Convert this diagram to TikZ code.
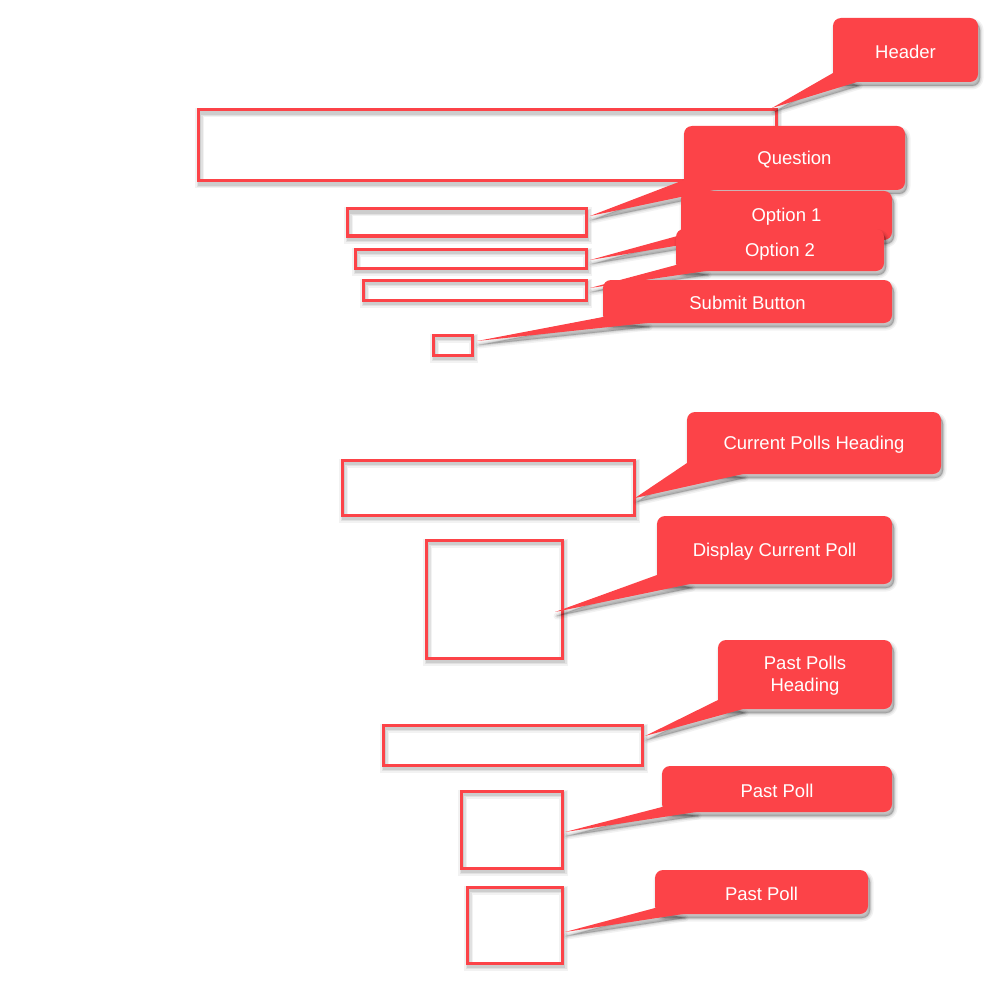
\documentclass[tikz,border=0pt]{standalone}
\usepackage{fontspec}
\setmainfont{Liberation Sans}
\usetikzlibrary{calc}
\definecolor{cred}{RGB}{252,67,72}
\tikzset{
  wbox/.style={draw=cred, line width=3pt, inner sep=0pt, outer sep=0pt, rectangle},
  cshape/.style={rectangle, inner sep=0pt, outer sep=0pt},
  ctext/.style={text=white, font=\fontsize{18.5}{22}\selectfont, align=center, inner sep=0pt},
}
\newcommand\wireframebox[4]{% name, center, width, height
  \node[wbox, minimum width=#3, minimum height=#4] (#1) at (#2) {};
}
\newcommand\calloutshadowpath[3]{% name, tip, up, right via \cu \cr
  ($(#1.south west)+(2,4)$) rectangle ($(#1.north east)+(2,4)$)
}
\newcommand\mycallout[8]{% name, center, width, height, tip coordinate name, up, right, text
  \node[cshape, minimum width=#3, minimum height=#4] (#1) at (#2) {};
  \foreach \lw/\op in {7/.05, 4/.07, 1.5/.1}{
    \filldraw[black, opacity=\op, line width=\lw pt, rounded corners=8pt, line join=round]
      ($(#1.south west)+(2,4)$) rectangle ($(#1.north east)+(2,4)$);
    \filldraw[black, opacity=\op, line width=\lw pt, line join=round]
      ($(#1.south west)+(2,4-#6)$) -- ($(#5)+(2,4)$) -- ($(#1.south west)+(2+#7,4)$) -- cycle;
  }
  \fill[cred] ($(#1.south west)+(0,-#6)$) -- (#5) -- ($(#1.south west)+(#7,0)$) -- cycle;
  \fill[cred, rounded corners=8pt] (#1.south west) rectangle (#1.north east);
  \node[ctext] (#1t) at ($(#1)+(0,1.5)$) {#8};
}
\begin{document}
\begin{tikzpicture}[x=1pt, y=-1pt]
\useasboundingbox (0,0) rectangle (1000,1000);
% box shadows
\foreach \c/\w/\h in {{487,145.5}/578/71, {466.5,222.5}/239/27, {470.5,258.5}/231/19, {474.5,290}/223/20, {452.5,345}/39/20, {488,487.5}/292/55, {494,599}/136/118, {512.5,745}/259/40, {511.5,829.5}/101/77, {514.5,925}/95/76}{
  \foreach \lw/\op in {9/.05, 6/.07, 3.5/.09}{
    \draw[black, opacity=\op, line width=\lw pt] ($(\c)+(-\w/2+1.5,-\h/2+3)$) rectangle ($(\c)+(\w/2+1.5,\h/2+3)$);
  }
}
% wireframe boxes
\wireframebox{hbox}{487,145.5}{578}{71}
\wireframebox{qbox}{466.5,222.5}{239}{27}
\wireframebox{oabox}{470.5,258.5}{231}{19}
\wireframebox{obbox}{474.5,290}{223}{20}
\wireframebox{sbox}{452.5,345}{39}{20}
\wireframebox{cphbox}{488,487.5}{292}{55}
\wireframebox{dcpbox}{494,599}{136}{118}
\wireframebox{pphbox}{512.5,745}{259}{40}
\wireframebox{ppabox}{511.5,829.5}{101}{77}
\wireframebox{ppbbox}{514.5,925}{95}{76}
% pointer tips
\coordinate (hdrtip) at ($(hbox.north east)+(-4,-2)$);
\coordinate (quetip) at ($(qbox.east)+(4,-6.5)$);
\coordinate (opatip) at ($(oabox.east)+(4,1.5)$);
\coordinate (opbtip) at ($(obbox.east)+(4,-2)$);
\coordinate (subtip) at ($(sbox.east)+(5,-4)$);
\coordinate (cphtip) at ($(cphbox.east)+(1,10.5)$);
\coordinate (dcptip) at ($(dcpbox.east)+(-7,13)$);
\coordinate (pphtip) at ($(pphbox.east)+(3,-9)$);
\coordinate (ppatip) at ($(ppabox.east)+(3,2.5)$);
\coordinate (ppbtip) at ($(ppbbox.east)+(3,7)$);
% callouts
\mycallout{hdr}{905.5,50}{145}{64}{hdrtip}{9}{24}{Header}
\mycallout{que}{794.5,158}{221}{64}{quetip}{10}{30}{Question}
\mycallout{opa}{786.5,215.5}{211}{49}{opatip}{5}{30}{Option 1}
\mycallout{opb}{780,250}{208}{42}{opbtip}{6}{30}{Option 2}
\mycallout{sub}{747.5,301.5}{289}{43}{subtip}{6}{44}{Submit Button}
\mycallout{cph}{814,443}{254}{62}{cphtip}{11}{56}{Current Polls Heading}
\mycallout{dcp}{774.5,550}{235}{68}{dcptip}{9}{33}{Display Current Poll}
\mycallout{pph}{805,674.5}{174}{69}{pphtip}{9}{25}{Past Polls\\Heading}
\mycallout{ppa}{777,789}{230}{46}{ppatip}{5}{34}{Past Poll}
\mycallout{ppb}{761.5,892}{213}{44}{ppbtip}{6}{28}{Past Poll}
\end{tikzpicture}
\end{document}
